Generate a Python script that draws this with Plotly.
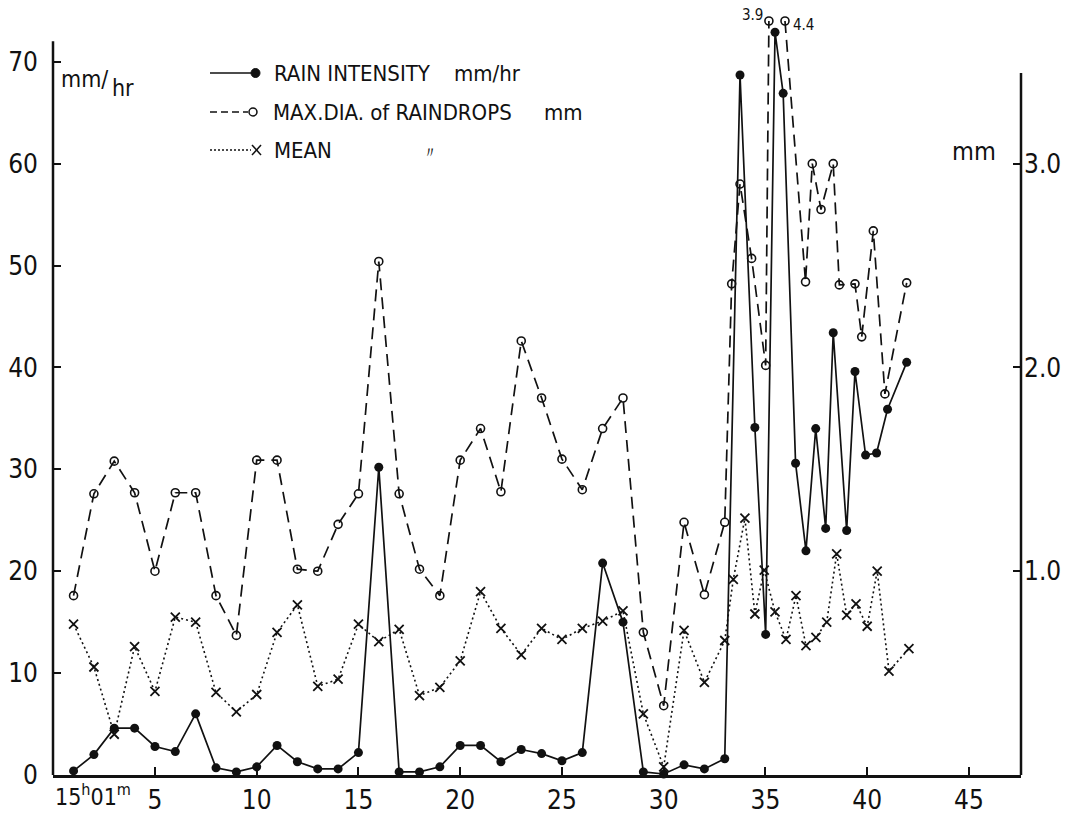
import plotly.graph_objects as go

# ---------------- data ----------------
minutes = list(range(1, 34))

rain_x = minutes + [33.75, 34.48, 35.01, 35.47, 35.87, 36.48, 36.99, 37.47, 37.96,
                    38.33, 38.99, 39.40, 39.92, 40.46, 41.0, 41.94]
rain_y = [0.4, 2.0, 4.6, 4.6, 2.8, 2.3, 6.0, 0.7, 0.3, 0.8,
          2.9, 1.3, 0.6, 0.6, 2.2, 30.2, 0.3, 0.3, 0.8, 2.9,
          2.9, 1.3, 2.5, 2.1, 1.4, 2.2, 20.8, 15.0, 0.3, 0.1,
          1.0, 0.6, 1.6,
          68.7, 34.1, 13.8, 72.9, 66.9, 30.6, 22.0, 34.0, 24.2,
          43.4, 24.0, 39.6, 31.4, 31.6, 35.9, 40.5]

maxdia_x = minutes + [33.34, 33.75, 34.32, 35.01, 35.17, 35.96, 36.97, 37.30, 37.73,
                      38.33, 38.63, 39.40, 39.73, 40.30, 40.87, 41.94]
maxdia_y = [0.88, 1.38, 1.54, 1.385, 1.0, 1.385, 1.385, 0.88, 0.685, 1.545,
            1.545, 1.01, 1.0, 1.23, 1.38, 2.52, 1.38, 1.01, 0.88, 1.545,
            1.7, 1.39, 2.13, 1.85, 1.55, 1.4, 1.7, 1.85, 0.7, 0.34,
            1.24, 0.885, 1.24,
            2.41, 2.9, 2.535, 2.01, 3.9, 4.4, 2.42, 3.0, 2.775,
            3.0, 2.405, 2.41, 2.15, 2.67, 1.87, 2.415]

mean_x = minutes + [33.42, 33.99, 34.48, 34.94, 35.47, 36.01, 36.50, 36.99, 37.48,
                    38.01, 38.50, 38.99, 39.45, 40.0, 40.49, 41.07, 42.05]
mean_y = [0.74, 0.53, 0.2, 0.63, 0.41, 0.775, 0.75, 0.405, 0.31, 0.395,
          0.7, 0.835, 0.435, 0.47, 0.74, 0.655, 0.715, 0.39, 0.43, 0.56,
          0.9, 0.72, 0.59, 0.72, 0.665, 0.72, 0.755, 0.805, 0.30, 0.04,
          0.71, 0.455, 0.66,
          0.96, 1.26, 0.79, 1.005, 0.8, 0.665, 0.88, 0.635, 0.675,
          0.75, 1.085, 0.785, 0.84, 0.73, 1.0, 0.51, 0.62]

start_label = "15<sup>h</sup>01<sup>m</sup>"   # label of minute 1
x_tickvals = [5, 10, 15, 20, 25, 30, 35, 40, 45]
x_ticktext = ["5", "10", "15", "20", "25", "30", "35", "40", "45"]
left_ticks = [0, 10, 20, 30, 40, 50, 60, 70]
right_ticks = [1.0, 2.0, 3.0]
right_ticktext = ["1.0", "2.0", "3.0"]

OFFSCALE_CAP = 3.7  # mm: values above this are drawn at the top and labelled

# ---------------- layout geometry ----------------
W, H = 1076, 814
ML, MR, MT, MB = 53, 55, 0, 39
PW, PH = W - ML - MR, H - MT - MB
Y_TOP = 76.06          # left-axis value at the top of plotting area
Y2_TOP = Y_TOP / 20.0  # right axis (mm) = left / 20

FONT = "DejaVu Sans Condensed, DejaVu Sans, sans-serif"
INK = "#111111"
TICK_SIZE = 26


def px_x(px):
    return (px - ML) / PW


def px_y(py):
    return (H - MB - py) / PH


# build max-dia display values (clip off-scale ones, break line between two off-scale)
md_x, md_y, off_pts = [], [], []
prev_off = False
for xv, yv in zip(maxdia_x, maxdia_y):
    off = yv > OFFSCALE_CAP
    if off and prev_off:
        md_x.append(None)
        md_y.append(None)
    md_x.append(xv)
    md_y.append(min(yv, OFFSCALE_CAP))
    if off:
        off_pts.append((xv, yv))
    prev_off = off

fig = go.Figure()

fig.add_trace(go.Scatter(
    x=mean_x, y=mean_y, yaxis="y2", mode="lines+markers",
    line=dict(color=INK, width=1.6, dash="2px,3px"),
    marker=dict(symbol="x-thin-open", size=9, line=dict(color=INK, width=1.8)),
    cliponaxis=False, showlegend=False))

fig.add_trace(go.Scatter(
    x=md_x, y=md_y, yaxis="y2", mode="lines+markers", connectgaps=False,
    line=dict(color=INK, width=1.7, dash="12px,7px"),
    marker=dict(symbol="circle-open", size=8, line=dict(color=INK, width=1.6)),
    cliponaxis=False, showlegend=False))

fig.add_trace(go.Scatter(
    x=rain_x, y=rain_y, yaxis="y", mode="lines+markers",
    line=dict(color=INK, width=1.7),
    marker=dict(symbol="circle", size=9, color=INK),
    cliponaxis=False, showlegend=False))

shapes = []
# left axis line (0..72) and right axis line
shapes.append(dict(type="line", xref="paper", yref="y", x0=0, x1=0, y0=0, y1=72,
                   line=dict(color=INK, width=2.5)))
shapes.append(dict(type="line", xref="paper", yref="y2", x0=1, x1=1, y0=0, y1=3.445,
                   line=dict(color=INK, width=2.5)))

# ---- hand-made legend ----
rows = [73, 112, 150]
shapes.append(dict(type="line", xref="paper", yref="paper",
                   x0=px_x(210), x1=px_x(253), y0=px_y(rows[0]), y1=px_y(rows[0]),
                   line=dict(color=INK, width=1.6)))
shapes.append(dict(type="circle", xref="paper", yref="paper",
                   x0=px_x(251), x1=px_x(260), y0=px_y(rows[0] + 4.5), y1=px_y(rows[0] - 4.5),
                   fillcolor=INK, line=dict(color=INK, width=1)))
shapes.append(dict(type="line", xref="paper", yref="paper",
                   x0=px_x(210), x1=px_x(248), y0=px_y(rows[1]), y1=px_y(rows[1]),
                   line=dict(color=INK, width=1.6, dash="7px,4px")))
shapes.append(dict(type="circle", xref="paper", yref="paper",
                   x0=px_x(249), x1=px_x(257), y0=px_y(rows[1] + 4), y1=px_y(rows[1] - 4),
                   line=dict(color=INK, width=1.5)))
shapes.append(dict(type="line", xref="paper", yref="paper",
                   x0=px_x(210), x1=px_x(251), y0=px_y(rows[2]), y1=px_y(rows[2]),
                   line=dict(color=INK, width=1.4, dash="2px,2px")))
for (a, b, c, d) in [(252, rows[2] - 5, 261, rows[2] + 5), (252, rows[2] + 5, 261, rows[2] - 5)]:
    shapes.append(dict(type="line", xref="paper", yref="paper",
                       x0=px_x(a), x1=px_x(c), y0=px_y(b), y1=px_y(d),
                       line=dict(color=INK, width=1.5)))

annotations = []


def txt(text, x_px, y_px, size, xanchor="left", yanchor="middle"):
    annotations.append(dict(text=text, xref="paper", yref="paper",
                            x=px_x(x_px), y=px_y(y_px), xanchor=xanchor, yanchor=yanchor,
                            showarrow=False, font=dict(family=FONT, size=size, color=INK)))


txt("RAIN INTENSITY", 272, rows[0], 22)
txt("mm/hr", 452, rows[0], 22)
txt("MAX.DIA. of RAINDROPS", 271, rows[1], 22)
txt("mm", 542, rows[1], 22)
txt("MEAN", 272, rows[2], 22)
txt("〃", 420, rows[2] + 3, 16)

# axis unit labels
txt("mm/", 59, 79, 23)
txt("hr", 110, 88, 23)
txt("mm", 950, 151, 25)

# start-time label under minute 1 (with h / m superscripts)
annotations.append(dict(text=start_label, xref="x", yref="paper", x=1, y=0,
                        xanchor="left", yanchor="top", xshift=-21, yshift=-3,
                        showarrow=False, font=dict(family=FONT, size=23, color=INK)))

# labels for off-scale max-dia values
for i, (xv, yv) in enumerate(off_pts):
    annotations.append(dict(text=f"{yv:.1f}", xref="x", yref="y2", x=xv, y=OFFSCALE_CAP,
                            xanchor="right" if i == 0 else "left", yanchor="middle",
                            xshift=-4 if i == 0 else 6, yshift=6 if i == 0 else -4,
                            showarrow=False, font=dict(family=FONT, size=15, color=INK)))

fig.update_layout(
    width=W, height=H,
    margin=dict(l=ML, r=MR, t=MT, b=MB, pad=0, autoexpand=False),
    paper_bgcolor="white", plot_bgcolor="white",
    font=dict(family=FONT, color=INK),
    showlegend=False,
    xaxis=dict(range=[-0.01, PW / 20.35 - 0.01], tickmode="array",
               tickvals=x_tickvals, ticktext=x_ticktext, automargin=False,
               ticks="inside", ticklen=8, tickwidth=2, tickcolor=INK,
               showline=True, linewidth=2.5, linecolor=INK,
               showgrid=False, zeroline=False,
               tickfont=dict(family=FONT, size=TICK_SIZE, color=INK),
               ticklabelstandoff=0),
    yaxis=dict(range=[0, Y_TOP], tickmode="array", tickvals=left_ticks, automargin=False,
               ticks="inside", ticklen=8, tickwidth=2, tickcolor=INK,
               showline=False, showgrid=False, zeroline=False,
               tickfont=dict(family=FONT, size=TICK_SIZE, color=INK),
               ticklabelstandoff=14),
    yaxis2=dict(range=[0, Y2_TOP], overlaying="y", side="right", tickmode="array",
                tickvals=right_ticks, ticktext=right_ticktext, automargin=False,
                ticks="inside", ticklen=8, tickwidth=2, tickcolor=INK,
                showline=False, showgrid=False, zeroline=False,
                tickfont=dict(family=FONT, size=TICK_SIZE, color=INK),
                ticklabelstandoff=2),
    shapes=shapes,
    annotations=annotations,
)

fig.write_html("out.html", config={"displayModeBar": False},
               post_script="document.body.style.margin='0';document.body.style.padding='0';")
